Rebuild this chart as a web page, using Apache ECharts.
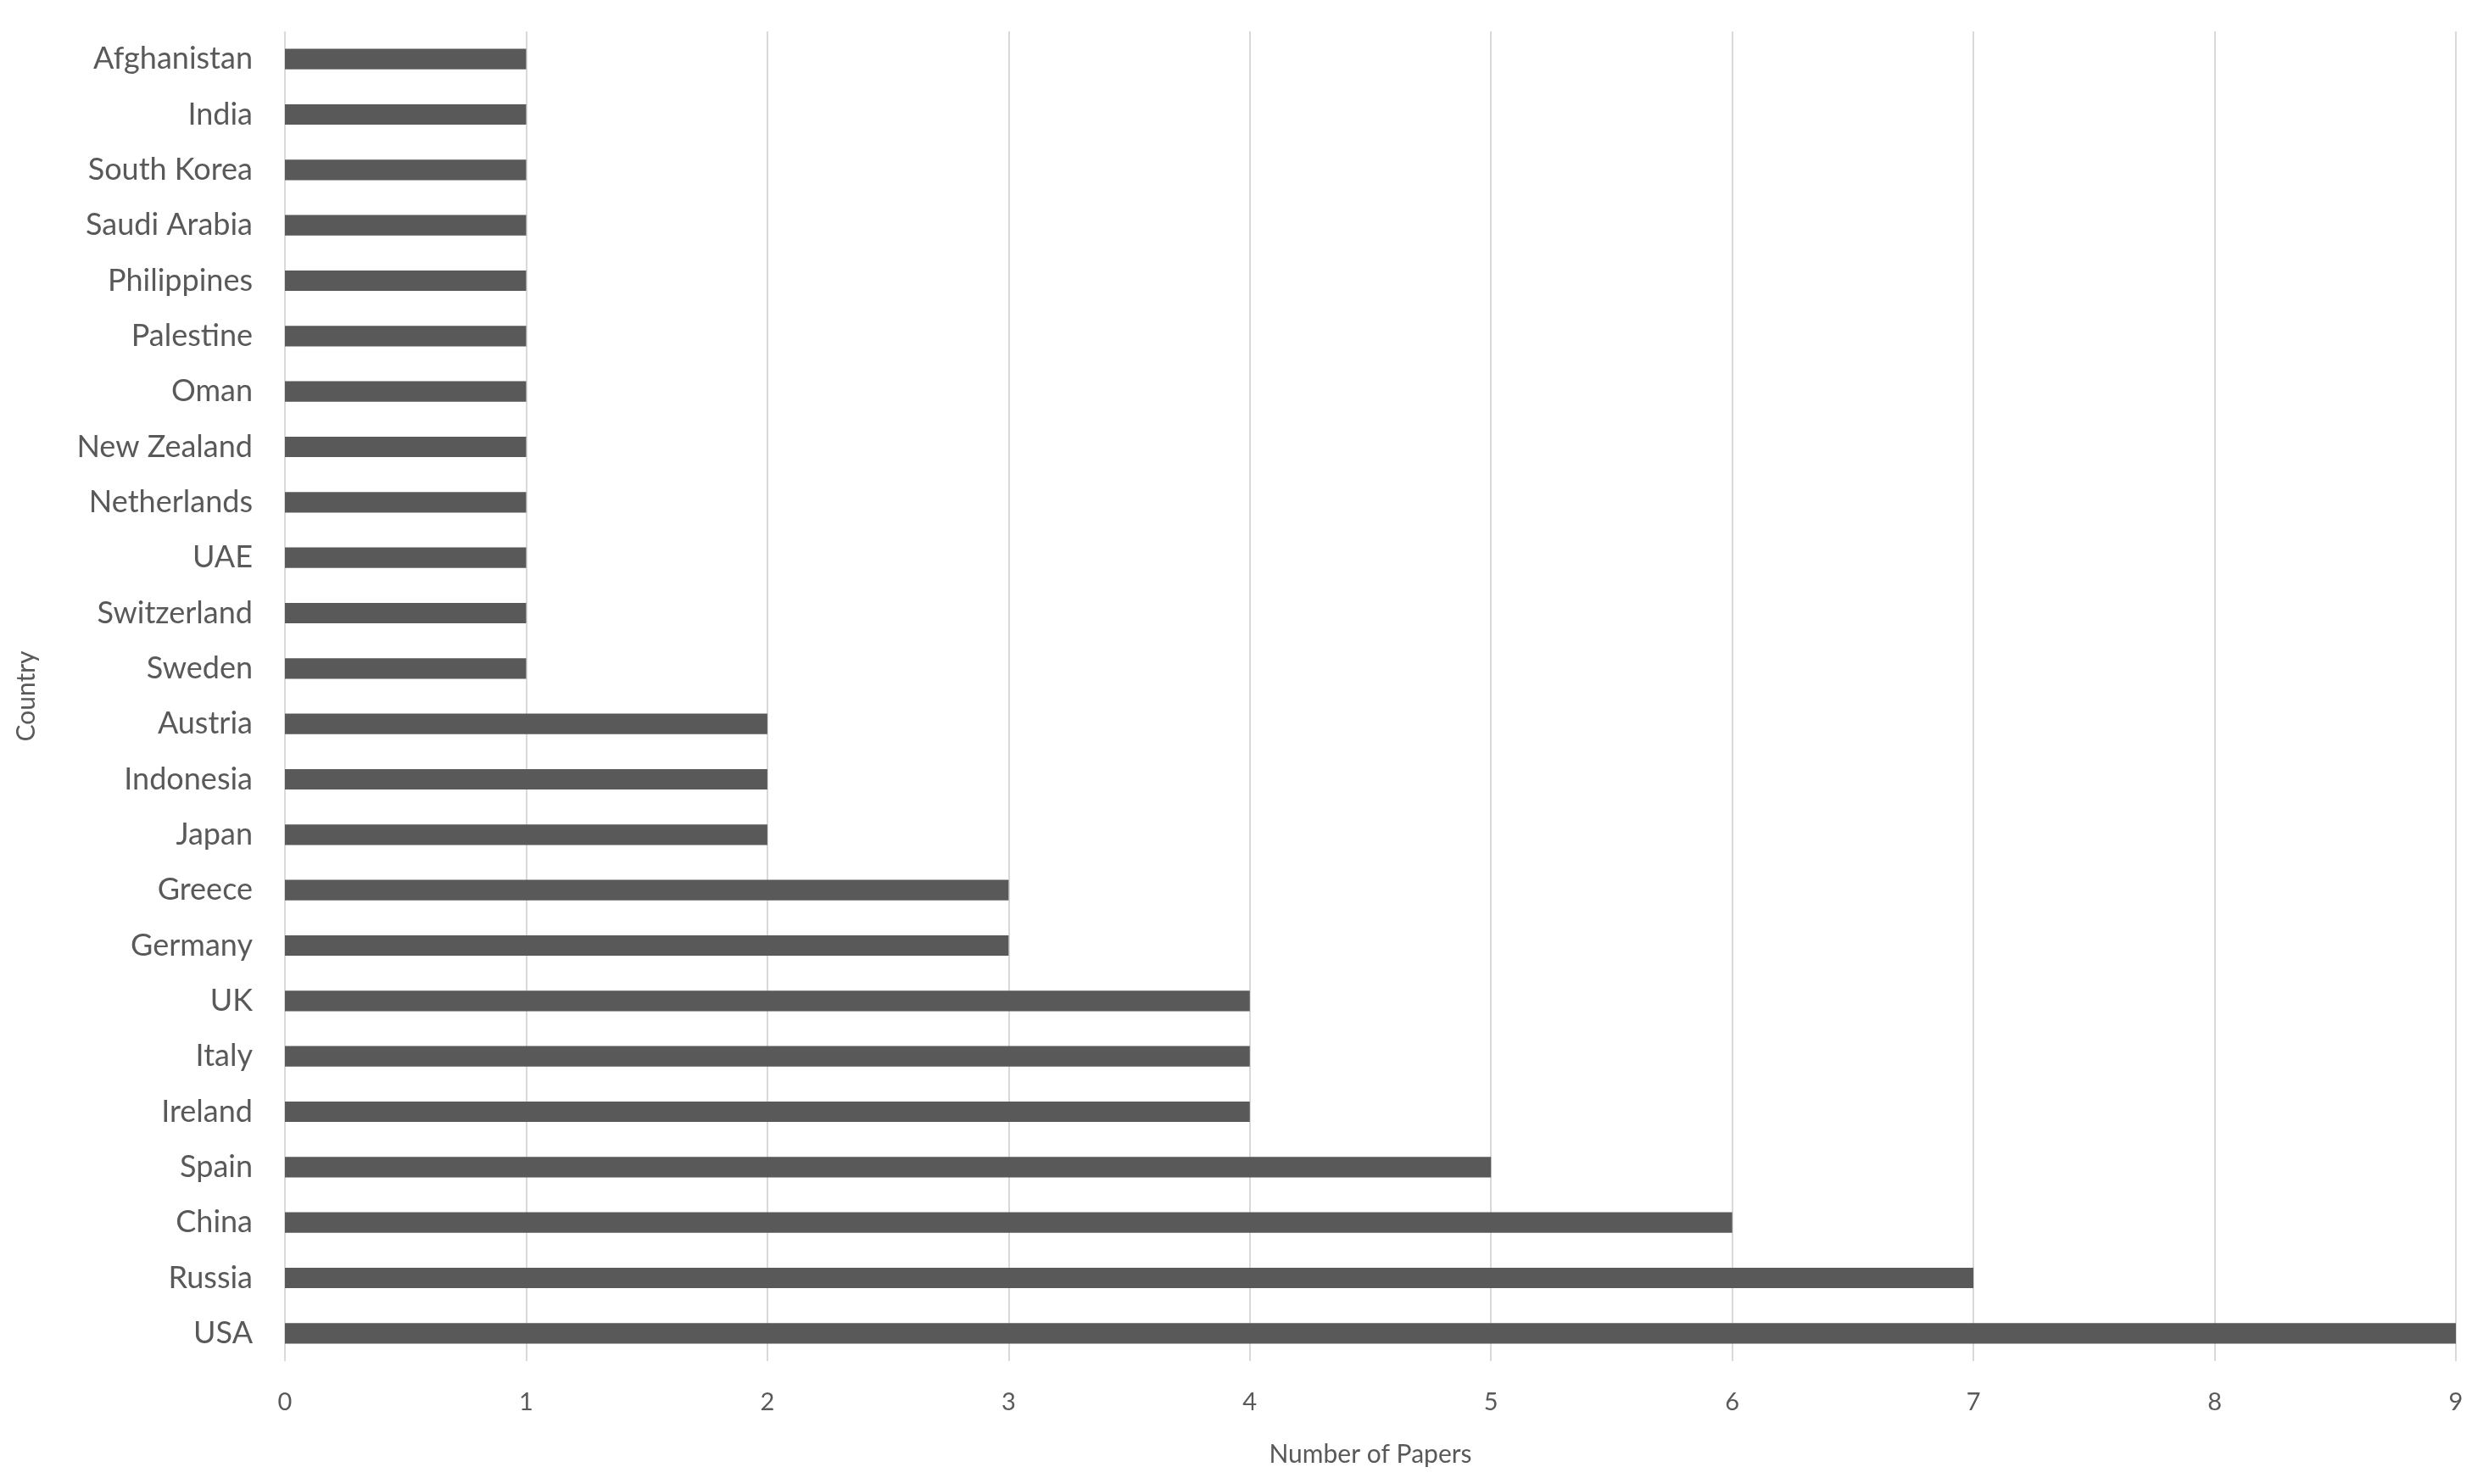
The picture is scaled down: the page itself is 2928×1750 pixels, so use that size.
<!DOCTYPE html>
<html>
<head>
<meta charset="utf-8">
<script src="https://cdn.jsdelivr.net/npm/echarts@6/dist/echarts.min.js"></script>
<style>html,body{margin:0;padding:0;background:#fff}#chart{width:2928px;height:1750px}</style>
</head>
<body>
<div id="chart"></div>
<script>
var chart = echarts.init(document.getElementById('chart'));

const countries = ['Afghanistan', 'India', 'South Korea', 'Saudi Arabia', 'Philippines', 'Palestine', 'Oman',
  'New Zealand', 'Netherlands', 'UAE', 'Switzerland', 'Sweden', 'Austria', 'Indonesia', 'Japan', 'Greece',
  'Germany', 'UK', 'Italy', 'Ireland', 'Spain', 'China', 'Russia', 'USA'];
const papers = [1, 1, 1, 1, 1, 1, 1, 1, 1, 1, 1, 1, 2, 2, 2, 3, 3, 4, 4, 4, 5, 6, 7, 9];
const xTicks = [0, 1, 2, 3, 4, 5, 6, 7, 8, 9];

var font = 'Lato, "Open Sans", sans-serif';

var option = {
  animation: false,
  grid: { left: 336, right: 32, top: 37, bottom: 145 },
  xAxis: {
    type: 'value',
    min: 0,
    max: xTicks[xTicks.length - 1],
    interval: 1,
    name: 'Number of Papers',
    nameLocation: 'middle',
    nameGap: 95,
    nameTextStyle: { color: '#595959', fontSize: 30, fontFamily: font },
    axisLine: { show: false },
    axisTick: { show: false },
    axisLabel: { color: '#595959', fontSize: 29, fontFamily: font, margin: 34 },
    splitLine: { lineStyle: { color: '#d9d9d9', width: 2 } }
  },
  yAxis: {
    type: 'category',
    data: countries,
    inverse: true,
    name: 'Country',
    nameLocation: 'middle',
    nameGap: 290,
    nameTextStyle: { color: '#595959', fontSize: 30, fontFamily: font },
    axisLine: { show: false },
    axisTick: { show: false },
    axisLabel: { color: '#595959', fontSize: 36, fontFamily: font, margin: 38 }
  },
  series: [{
    type: 'bar',
    data: papers,
    barWidth: '37%',
    itemStyle: { color: '#595959' }
  }]
};

chart.setOption(option);
</script>
</body>
</html>
